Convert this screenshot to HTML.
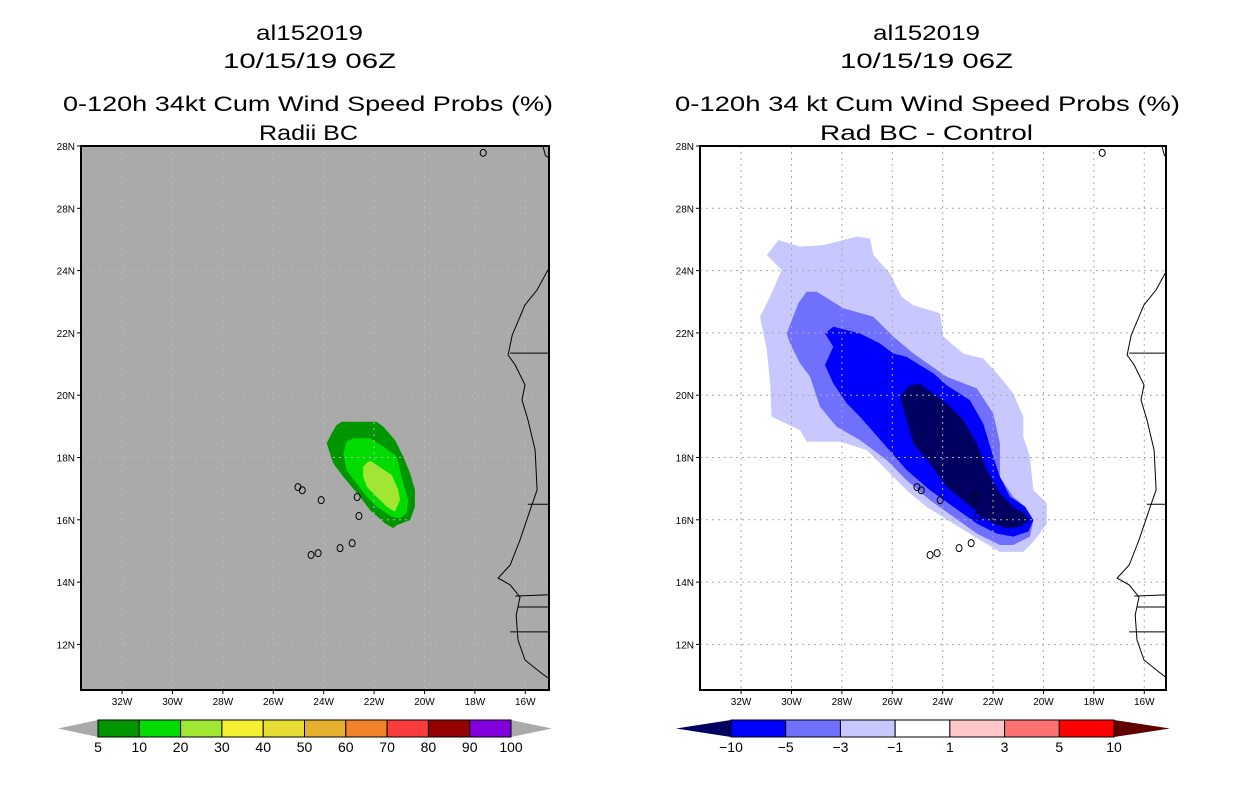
<!DOCTYPE html>
<html><head><meta charset="utf-8">
<style>
html,body{margin:0;padding:0;background:#fff;}
svg{display:block;font-family:"Liberation Sans",sans-serif;}
</style></head>
<body>
<svg id="fig" width="1236" height="800" viewBox="0 0 1236 800" xmlns="http://www.w3.org/2000/svg">
<rect width="1236" height="800" fill="#fff"/>
<g id="titles" font-size="21" fill="#000" text-anchor="start">
<text x="256" y="40" textLength="107" lengthAdjust="spacingAndGlyphs">al152019</text>
<text x="223" y="68" textLength="173" lengthAdjust="spacingAndGlyphs">10/15/19 06Z</text>
<text x="63" y="111" textLength="490" lengthAdjust="spacingAndGlyphs">0-120h 34kt Cum Wind Speed Probs (%)</text>
<text x="259" y="140" textLength="99" lengthAdjust="spacingAndGlyphs">Radii BC</text>
<text x="873" y="40" textLength="107" lengthAdjust="spacingAndGlyphs">al152019</text>
<text x="840" y="68" textLength="173" lengthAdjust="spacingAndGlyphs">10/15/19 06Z</text>
<text x="675" y="111" textLength="505" lengthAdjust="spacingAndGlyphs">0-120h 34 kt Cum Wind Speed Probs (%)</text>
<text x="820" y="140" textLength="213" lengthAdjust="spacingAndGlyphs">Rad BC - Control</text>
</g>
<g id="left"></g>
<g id="right"></g>
<g id="cbars"></g>
</svg>
<script>
// ---- axis data ----
const lonTicks = [-32,-30,-28,-26,-24,-22,-20,-18,-16];
const lonLabels = ["32W","30W","28W","26W","24W","22W","20W","18W","16W"];
const latTicks = [28,26,24,22,20,18,16,14,12];
const latLabels = ["28N","28N","24N","22N","20N","18N","16N","14N","12N"];

// ---- left panel: probability contours (lon,lat) ----
const probLevels = [5,10,20];
const prob5 = [[-23.49,19.04],[-23.29,19.15],[-21.90,19.15],[-21.63,18.99],[-21.17,18.56],[-20.84,18.03],[-20.57,17.49],[-20.38,16.96],[-20.38,16.42],[-20.57,15.99],[-21.10,15.83],[-21.24,15.73],[-21.57,15.89],[-22.16,16.31],[-22.56,16.74],[-23.22,17.38],[-23.62,17.81],[-23.88,18.46],[-23.68,18.78]];
const prob10 = [[-23.09,18.51],[-22.82,18.62],[-22.16,18.62],[-21.63,18.35],[-21.10,18.03],[-20.97,17.60],[-20.84,17.17],[-20.64,16.64],[-20.71,16.21],[-20.97,16.05],[-21.30,16.10],[-21.90,16.42],[-22.29,16.74],[-22.69,17.17],[-23.09,17.60],[-23.22,18.13]];
const prob20 = [[-22.23,17.87],[-22.10,17.87],[-21.70,17.65],[-21.30,17.44],[-21.04,16.96],[-20.97,16.64],[-21.17,16.26],[-21.50,16.42],[-21.90,16.74],[-22.29,17.06],[-22.43,17.38],[-22.43,17.71]];

// ---- right panel: difference contours ----
const diffLevels = [-1,-3,-5,-10];
const diffM1 = [[-30.98,24.5],[-30.52,24.98],[-29.66,24.77],[-28.74,24.82],[-27.41,25.09],[-26.88,25.03],[-26.75,24.5],[-26.09,23.91],[-25.63,23.16],[-25.16,22.89],[-24.11,22.63],[-23.97,21.88],[-23.18,21.34],[-22.39,21.18],[-21.73,20.59],[-21.2,20.06],[-20.8,19.31],[-20.8,18.67],[-20.54,18.02],[-20.4,16.95],[-19.87,16.53],[-19.87,15.88],[-20.4,15.29],[-20.8,14.97],[-21.73,14.97],[-22.52,15.35],[-23.58,15.88],[-24.64,16.42],[-25.43,16.95],[-26.22,17.6],[-27.02,18.24],[-28.07,18.51],[-29.4,18.51],[-29.66,18.88],[-30.79,19.31],[-30.85,20.38],[-30.98,21.45],[-31.25,22.52],[-30.85,23.16],[-30.39,24.02]];
const diffM3 = [[-29.4,23.32],[-29.0,23.32],[-27.94,22.79],[-26.75,22.52],[-25.96,21.88],[-25.16,21.34],[-23.84,20.59],[-22.65,20.22],[-21.99,19.41],[-21.73,18.45],[-21.73,17.38],[-21.2,16.74],[-20.73,16.42],[-20.4,15.99],[-20.54,15.46],[-21.2,15.19],[-21.73,15.19],[-22.65,15.56],[-23.58,16.1],[-24.5,16.63],[-25.43,17.27],[-26.22,17.92],[-27.28,18.56],[-28.21,18.99],[-28.87,19.63],[-29.26,20.59],[-29.66,21.02],[-30.06,21.66],[-30.19,21.98],[-29.73,22.95]];
const diffM5 = [[-28.67,21.98],[-28.34,22.2],[-27.28,21.98],[-26.49,21.66],[-25.96,21.34],[-25.43,21.23],[-24.37,20.7],[-23.84,20.32],[-22.92,19.84],[-22.39,19.09],[-21.99,18.02],[-21.73,17.38],[-21.33,16.74],[-20.73,16.42],[-20.4,15.99],[-20.6,15.62],[-21.2,15.46],[-21.86,15.56],[-22.65,15.88],[-23.58,16.42],[-24.5,16.95],[-25.43,17.6],[-26.35,18.45],[-27.28,19.31],[-27.81,19.74],[-28.34,20.38],[-28.67,20.97],[-28.34,21.56]];
const diffM10 = [[-25.3,20.32],[-24.9,20.36],[-23.84,19.74],[-23.18,19.2],[-22.65,18.45],[-22.25,17.6],[-21.73,16.85],[-21.2,16.42],[-20.73,16.2],[-20.54,15.99],[-20.93,15.78],[-21.46,15.72],[-22.25,15.99],[-23.05,16.53],[-23.84,17.06],[-24.5,17.81],[-25.16,18.45],[-25.43,19.2],[-25.69,19.95]];

// ---- geography ----
const coast = [[-14.9,24.3],[-15.06,24.08],[-15.53,23.38],[-16.01,22.9],[-16.52,21.93],[-16.68,21.29],[-16.4,20.97],[-16.01,20.33],[-16.13,19.85],[-15.89,19.2],[-15.61,18.24],[-15.53,16.96],[-15.81,16.31],[-16.21,15.35],[-16.6,14.55],[-17.08,14.13],[-16.6,13.91],[-16.21,13.52],[-16.36,12.94],[-16.29,12.14],[-16.01,11.5],[-15.41,11.11],[-14.9,10.8]];
const borders = [[[-16.6,21.35],[-14.9,21.35]],[[-15.9,16.5],[-14.9,16.5]],[[-16.4,13.55],[-14.9,13.6]],[[-16.3,13.2],[-14.9,13.2]],[[-16.6,12.4],[-14.9,12.4]]];
const islands = [[-25.02,17.05],[-24.85,16.95],[-24.1,16.63],[-22.67,16.73],[-22.6,16.12],[-24.22,14.93],[-24.5,14.87],[-23.35,15.09],[-22.87,15.25],[-17.67,27.78]];
const topCoast = [[-14.9,27.5],[-15.2,27.7],[-15.3,28.0]];

// ---- colorbars ----
const probBounds = [5,10,20,30,40,50,60,70,80,90,100];
const probColors = ["#009600","#00dc00","#a0e632","#f5f032","#e6dc32","#e6af2d","#f08228","#fa3c3c","#960000","#8200dc"];
const diffBounds = [-10,-5,-3,-1,1,3,5,10];
const diffColors = ["#0000ff","#7070ff","#c8c8ff","#ffffff","#ffc8c8","#ff7070","#ff0000"];

const NS="http://www.w3.org/2000/svg";
function mk(tag, attrs, parent){const e=document.createElementNS(NS,tag);for(const k in attrs)e.setAttribute(k,attrs[k]);parent.appendChild(e);return e;}

const PX_PER_LON = 25.2, PX_PER_LAT = 31.15;
function panel(gid, x0, y0, w, h){
  const g=document.getElementById(gid);
  const X=lon=>x0+(lon-(-33.63))*PX_PER_LON;
  const Y=lat=>y0+(28-lat)*PX_PER_LAT;
  return {g,X,Y};
}
function poly(p,pts,fill,name){
  const el=mk('polygon',{points:pts.map(q=>p.X(q[0]).toFixed(1)+','+p.Y(q[1]).toFixed(1)).join(' '),fill:fill},p.clip);
  
  
}
function line(p,pts,name,parent){
  const el=mk('polyline',{points:pts.map(q=>p.X(q[0]).toFixed(1)+','+p.Y(q[1]).toFixed(1)).join(' '),fill:'none',stroke:'#000','stroke-width':1},parent||p.clip);
  
  
}
function build(gid,x0,y0,w,h,bg,gridColor,pfx,polys){
  const p=panel(gid,x0,y0,w,h);
  const defs=mk('defs',{},p.g);
  const cp=mk('clipPath',{id:gid+'clip'},defs);
  mk('rect',{x:x0,y:y0,width:w,height:h},cp);
  const bgR=mk('rect',{x:x0,y:y0,width:w,height:h,fill:bg},p.g);
  
  
  p.clip=mk('g',{'clip-path':'url(#'+gid+'clip)'},p.g);
  polys.forEach(a=>poly(p,a[0],a[1],a[2]));
  lonTicks.forEach(l=>{const el=mk('line',{x1:p.X(l),x2:p.X(l),y1:y0,y2:y0+h,stroke:gridColor,'stroke-dasharray':'2,4','stroke-width':1},p.clip);
    
    });
  latTicks.forEach(l=>{const el=mk('line',{x1:x0,x2:x0+w,y1:p.Y(l),y2:p.Y(l),stroke:gridColor,'stroke-dasharray':'2,4','stroke-width':1},p.clip);
    
    });
  line(p,coast,pfx+'-coastline');
  line(p,topCoast,pfx+'-coastline-north');
  borders.forEach(b=>line(p,b,pfx+'-border'));
  islands.forEach(c=>{const el=mk('ellipse',{cx:p.X(c[0]),cy:p.Y(c[1]),rx:3,ry:3.5,fill:'none',stroke:'#000','stroke-width':1},p.clip);
    
    });
  const fr=mk('rect',{x:x0,y:y0,width:w,height:h,fill:'none',stroke:'#000','stroke-width':2},p.g);
  
  
  lonTicks.forEach((l,i)=>{
    mk('line',{x1:p.X(l),x2:p.X(l),y1:y0+h,y2:y0+h+4,stroke:'#000'},p.g);
    const t=mk('text',{x:p.X(l),y:y0+h+15,'font-size':10,'text-anchor':'middle'},p.g);
    t.textContent=lonLabels[i];
    
    
  });
  latTicks.forEach((l,i)=>{
    mk('line',{x1:x0-4,x2:x0,y1:p.Y(l),y2:p.Y(l),stroke:'#000'},p.g);
    const t=mk('text',{x:x0-6,y:p.Y(l)+4,'font-size':10,'text-anchor':'end'},p.g);
    t.textContent=latLabels[i];
    
    
  });
}
build('left',81,146,468,544,'#aaaaaa','#b8b8b8','left',[[prob5,probColors[0],'prob-5-contour'],[prob10,probColors[1],'prob-10-contour'],[prob20,probColors[2],'prob-20-contour']]);
build('right',700,146,466,544,'#ffffff','#aaaaaa','right',[[diffM1,diffColors[2],'diff-minus1-contour'],[diffM3,diffColors[1],'diff-minus3-contour'],[diffM5,diffColors[0],'diff-minus5-contour'],[diffM10,'#000060','diff-minus10-contour']]);

function cbar(x0,x1,tipL,tipR,bounds,colors,leftTip,rightTip,pfx){
  const g=document.getElementById('cbars');
  const y0=720,y1=737,n=colors.length,w=(x1-x0)/n;
  const tl=mk('polygon',{points:`${tipL},${(y0+y1)/2} ${x0},${y0} ${x0},${y1}`,fill:leftTip},g);
  
  
  const tr=mk('polygon',{points:`${tipR},${(y0+y1)/2} ${x1},${y0} ${x1},${y1}`,fill:rightTip},g);
  
  
  colors.forEach((c,i)=>{
    const r=mk('rect',{x:x0+i*w,y:y0,width:w,height:y1-y0,fill:c,stroke:'#000','stroke-width':1},g);
    
    
  });
  bounds.forEach((b,i)=>{
    const t=mk('text',{x:x0+i*w,y:752,'font-size':14,'text-anchor':'middle'},g);
    t.textContent=String(b).replace('-','\u2212');
    
    
  });
}
cbar(98,511,58,552,probBounds,probColors,'#aaaaaa','#aaaaaa','left');
cbar(731,1114,676,1170,diffBounds,diffColors,'#000060','#600000','right');
</script>
</body></html>
